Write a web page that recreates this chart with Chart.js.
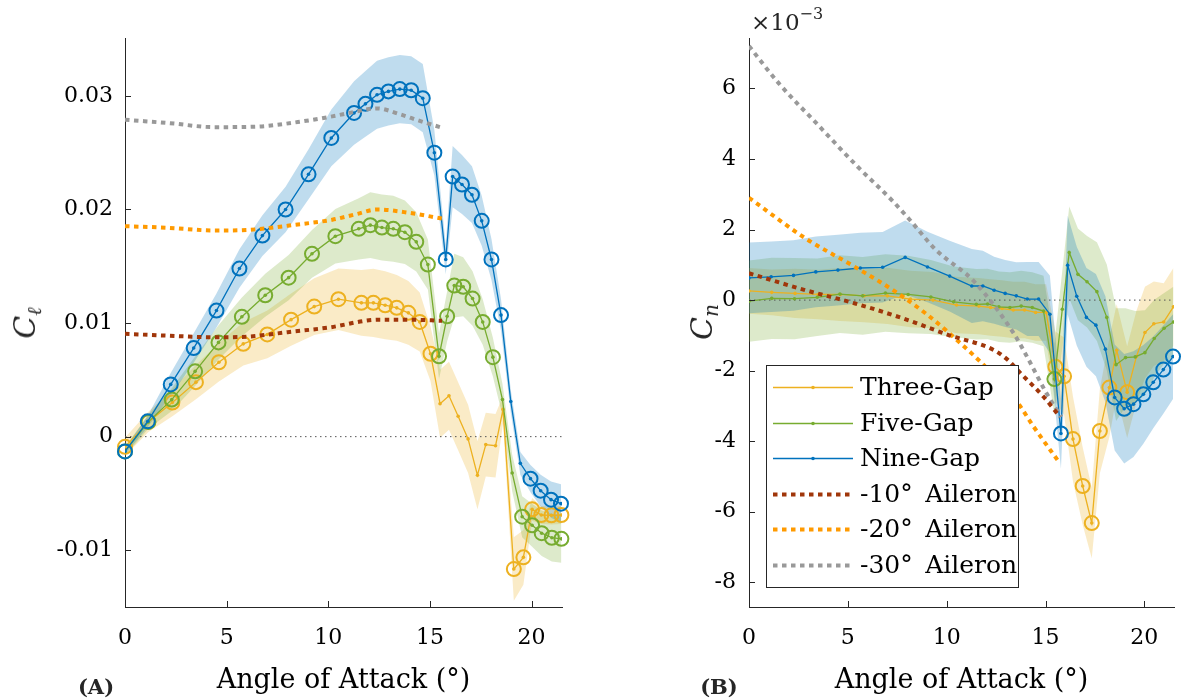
<!DOCTYPE html>
<html>
<head>
<meta charset="utf-8">
<title>Roll and yaw moment coefficients vs angle of attack</title>
<script src="https://cdn.jsdelivr.net/npm/chart.js@4.4.1/dist/chart.umd.min.js"></script>
<style>
  html, body { margin: 0; padding: 0; background: #fff; }
  body { position: relative; width: 1183px; height: 700px; overflow: hidden; font-family: 'DejaVu Serif', serif; color: #262626; }
  canvas { position: absolute; top: 0; }
  #clChart { left: 0; }
  #cnChart { left: 620px; }
  .txt { position: absolute; white-space: nowrap; line-height: 1; }
  .ylab { font-size: 30px; font-style: italic; transform: translate(-50%, -50%) rotate(-90deg); }
  .ylab sub { font-size: 20px; vertical-align: -6px; }
  .mult { font-size: 23px; }
  .mult sup { font-size: 16px; vertical-align: 11px; }
  .panel { font-size: 21px; font-weight: bold; transform: translate(-50%, -50%); }
</style>
</head>
<body>
<canvas id="clChart" width="600" height="700"></canvas>
<canvas id="cnChart" width="563" height="700"></canvas>
<div class="txt ylab" style="left:27px; top:323px;">C<sub>ℓ</sub></div>
<div class="txt ylab" style="left:704px; top:322px;">C<sub>n</sub></div>
<div class="txt mult" style="left:751px; top:6px;">×10<sup>−3</sup></div>
<div class="txt panel" style="left:96px; top:686px;">(A)</div>
<div class="txt panel" style="left:719px; top:686px;">(B)</div>
<script>
// ---- axes ----
const xTicks = [0, 5, 10, 15, 20];
const xMin = 0, xMax = 21.5;
const clTicks = [-0.01, 0, 0.01, 0.02, 0.03];
const clMin = -0.015, clMax = 0.0351;
const cnTicks = [-8, -6, -4, -2, 0, 2, 4, 6];
const cnMin = -8.7, cnMax = 7.43;

// ---- angle of attack for each wing ----
const threeX = [0, 1.15, 2.33, 3.49, 4.62, 5.82, 7.0, 8.17, 9.31, 10.5, 11.63, 12.22, 12.8, 13.37, 13.94, 14.5, 15.03, 15.5, 15.94, 16.39, 16.88, 17.34, 17.75, 18.23, 18.6, 19.13, 19.6, 20.03, 20.48, 20.98, 21.47];
const fiveX = [0, 1.15, 2.3, 3.45, 4.6, 5.75, 6.9, 8.05, 9.2, 10.35, 11.5, 12.07, 12.64, 13.2, 13.77, 14.33, 14.9, 15.45, 15.85, 16.2, 16.64, 17.1, 17.6, 18.1, 18.57, 19.05, 19.54, 20.03, 20.5, 21.0, 21.47];
const nineX = [0, 1.12, 2.25, 3.38, 4.5, 5.63, 6.76, 7.9, 9.03, 10.15, 11.27, 11.83, 12.4, 12.96, 13.52, 14.08, 14.65, 15.22, 15.78, 16.12, 16.58, 17.07, 17.55, 18.03, 18.5, 18.98, 19.45, 19.95, 20.45, 20.96, 21.45];

// ---- Cl (panel A): mean and spread ----
const threeCl = [-0.0009, 0.0013, 0.003, 0.0048, 0.00655, 0.00817, 0.009, 0.0103, 0.01145, 0.0121, 0.01178, 0.01178, 0.01157, 0.01134, 0.0109, 0.0101, 0.0073, 0.0029, 0.0036, 0.0018, -0.0002, -0.0034, -0.0007, -0.0008, 0.0024, -0.01166, -0.01063, -0.0064, -0.0069, -0.00693, -0.0069];
const threeClErr = [0.0008, 0.0009, 0.0012, 0.0015, 0.0017, 0.0019, 0.0021, 0.0023, 0.0025, 0.0027, 0.0029, 0.003, 0.003, 0.0029, 0.0028, 0.0026, 0.0024, 0.003, 0.003, 0.003, 0.003, 0.003, 0.0028, 0.0028, 0.0012, 0.0028, 0.0024, 0.001, 0.0008, 0.0008, 0.0008];
const fiveCl = [-0.0013, 0.0013, 0.00326, 0.00575, 0.0083, 0.01055, 0.01245, 0.014, 0.0161, 0.01765, 0.0183, 0.01862, 0.01841, 0.0183, 0.018, 0.01715, 0.01515, 0.00708, 0.0106, 0.0133, 0.0132, 0.01216, 0.0101, 0.007, 0.00326, -0.0032, -0.00705, -0.0078, -0.0085, -0.0089, -0.009];
const fiveClErr = [0.0004, 0.0006, 0.001, 0.0013, 0.0015, 0.0017, 0.0019, 0.002, 0.0021, 0.0024, 0.0027, 0.0029, 0.0029, 0.0029, 0.0028, 0.0026, 0.0022, 0.002, 0.0022, 0.0028, 0.0026, 0.0024, 0.002, 0.0017, 0.0014, 0.0016, 0.0018, 0.0019, 0.002, 0.0021, 0.0021];
const nineCl = [-0.0013, 0.00135, 0.0046, 0.0078, 0.0111, 0.0148, 0.0177, 0.02, 0.0231, 0.0263, 0.0285, 0.0293, 0.0301, 0.0304, 0.0306, 0.0305, 0.0298, 0.025, 0.0156, 0.0229, 0.0222, 0.0213, 0.019, 0.0156, 0.0107, 0.0031, -0.00235, -0.0037, -0.00476, -0.00555, -0.0059];
const nineClErr = [0.0003, 0.0005, 0.001, 0.0013, 0.0015, 0.0017, 0.0018, 0.002, 0.0022, 0.0025, 0.0028, 0.0029, 0.003, 0.003, 0.003, 0.003, 0.003, 0.002, 0.0013, 0.0027, 0.0026, 0.0025, 0.0022, 0.0018, 0.0014, 0.001, 0.001, 0.0012, 0.0014, 0.0016, 0.0017];
// 1 = point drawn with an open circle
const threeClMark = [1, 1, 1, 1, 1, 1, 1, 1, 1, 1, 1, 1, 1, 1, 1, 1, 1, 0, 0, 0, 0, 0, 0, 0, 0, 1, 1, 1, 1, 1, 1];
const fiveClMark = [1, 1, 1, 1, 1, 1, 1, 1, 1, 1, 1, 1, 1, 1, 1, 1, 1, 1, 1, 1, 1, 1, 1, 1, 0, 0, 1, 1, 1, 1, 1];
const nineClMark = [1, 1, 1, 1, 1, 1, 1, 1, 1, 1, 1, 1, 1, 1, 1, 1, 1, 1, 1, 1, 1, 1, 1, 1, 1, 0, 0, 1, 1, 1, 1];

// ---- Cn x 1e-3 (panel B) ----
const threeCn = [0.26, 0.22, 0.19, 0.16, 0.16, 0.12, 0.12, 0.03, 0.0, -0.14, -0.17, -0.21, -0.24, -0.28, -0.28, -0.35, -0.35, -1.89, -2.16, -3.94, -5.27, -6.32, -3.71, -2.48, -1.42, -2.61, -1.6, -0.92, -0.67, -0.62, -0.19];
const threeCnErr = [0.65, 0.65, 0.7, 0.7, 0.75, 0.75, 0.8, 0.8, 0.8, 0.8, 0.8, 0.8, 0.8, 0.8, 0.8, 0.8, 0.8, 1.0, 1.1, 1.2, 1.1, 1.0, 1.2, 1.4, 1.3, 1.3, 1.3, 1.3, 1.2, 1.1, 1.1];
const fiveCn = [-0.03, 0.05, 0.04, 0.08, 0.17, 0.12, 0.2, 0.16, 0.09, -0.05, -0.12, -0.11, -0.19, -0.21, -0.17, -0.21, -0.31, -2.24, -0.26, 1.35, 0.73, 0.52, 0.24, -0.49, -1.83, -1.63, -1.61, -1.49, -1.09, -0.8, -0.62];
const fiveCnErr = [1.15, 1.15, 1.15, 1.1, 1.1, 1.1, 1.1, 1.1, 1.05, 1.0, 1.0, 1.0, 1.0, 1.0, 1.0, 1.0, 1.0, 1.0, 1.1, 1.3, 1.3, 1.3, 1.4, 1.5, 1.6, 1.4, 1.3, 1.2, 1.1, 1.0, 1.0];
const nineCn = [0.63, 0.66, 0.7, 0.8, 0.85, 0.91, 0.93, 1.21, 0.94, 0.68, 0.4, 0.4, 0.28, 0.19, 0.12, 0.03, 0.03, -0.4, -3.78, 0.99, 0.11, -0.49, -0.71, -1.39, -2.76, -3.08, -2.95, -2.67, -2.33, -1.97, -1.6];
const nineCnErr = [1.0, 1.0, 1.0, 1.0, 1.0, 1.0, 1.0, 1.05, 1.0, 1.0, 1.05, 1.0, 0.95, 0.95, 0.95, 1.05, 1.05, 1.1, 1.0, 1.4, 1.4, 1.4, 1.45, 1.5, 1.5, 1.55, 1.5, 1.4, 1.3, 1.25, 1.2];
const threeCnMark = [0, 0, 0, 0, 0, 0, 0, 0, 0, 0, 0, 0, 0, 0, 0, 0, 0, 1, 1, 1, 1, 1, 1, 1, 0, 1, 0, 0, 0, 0, 0];
const fiveCnMark = [0, 0, 0, 0, 0, 0, 0, 0, 0, 0, 0, 0, 0, 0, 0, 0, 0, 1, 0, 0, 0, 0, 0, 0, 0, 0, 0, 0, 0, 0, 0];
const nineCnMark = [0, 0, 0, 0, 0, 0, 0, 0, 0, 0, 0, 0, 0, 0, 0, 0, 0, 0, 1, 0, 0, 0, 0, 0, 1, 1, 1, 1, 1, 1, 1];

// ---- aileron reference curves ----
const ail10ClX = [0, 2, 4.4, 6, 8, 10, 12.5, 14, 15.6];
const ail10Cl = [0.00905, 0.0089, 0.00875, 0.0088, 0.0092, 0.0096, 0.0103, 0.0103, 0.0102];
const ail20ClX = [0, 2, 4.4, 6, 8.5, 10.2, 11.4, 12.4, 14, 15.6];
const ail20Cl = [0.01853, 0.0184, 0.01815, 0.0182, 0.01868, 0.0191, 0.0196, 0.02, 0.0197, 0.0192];
const ail30ClX = [0, 2.2, 4.4, 6.5, 8.5, 10.2, 11.3, 12.4, 13.5, 14.5, 15.6];
const ail30Cl = [0.0279, 0.0276, 0.02725, 0.0273, 0.0277, 0.0282, 0.0286, 0.0289, 0.0284, 0.0278, 0.0272];
const ail10CnX = [0, 2.86, 5.33, 7.8, 10.1, 12.4, 13.1, 13.75, 14.9, 15.73];
const ail10Cn = [0.76, 0.28, -0.09, -0.52, -0.99, -1.42, -1.7, -2.08, -2.74, -3.31];
const ail20CnX = [0, 2.86, 5.33, 7.8, 9.95, 13.5, 14.4, 15.73];
const ail20Cn = [2.9, 1.75, 0.95, 0.09, -0.85, -2.84, -3.59, -4.63];
const ail30CnX = [0, 1.5, 3.5, 5.5, 7.3, 8.14, 9.46, 11.4, 13.4, 14.07, 15.06, 15.8];
const ail30Cn = [7.2, 6.15, 4.96, 3.78, 2.79, 2.27, 1.42, 0.52, -0.95, -1.61, -2.65, -3.31];

const legendLabels = ['Three-Gap', 'Five-Gap', 'Nine-Gap', '-10°\u2002Aileron', '-20°\u2002Aileron', '-30°\u2002Aileron'];

// colours
const threeColor = '#EDB120', fiveColor = '#77AC30', nineColor = '#0072BD';
const threeFill = 'rgba(237,177,32,0.25)', fiveFill = 'rgba(119,172,48,0.25)', nineFill = 'rgba(0,114,189,0.25)';
const ail10Color = '#A0360A', ail20Color = '#FF9A00', ail30Color = '#999999';
const axisColor = '#262626';
const serif = "'DejaVu Serif', serif";

const toPts = (xs, ys) => xs.map((x, i) => ({ x, y: ys[i] }));

function seriesSets(xs, ys, errs, marks, color, fill, label, order) {
    return [
        { label: label + ' upper', data: xs.map((x, i) => ({ x, y: ys[i] + errs[i] })), fill: '+1', backgroundColor: fill, borderColor: 'transparent', borderWidth: 0, pointRadius: 0, order: 20 },
        { label: label + ' lower', data: xs.map((x, i) => ({ x, y: ys[i] - errs[i] })), fill: false, borderColor: 'transparent', borderWidth: 0, pointRadius: 0, order: 20 },
        { label, data: toPts(xs, ys), borderColor: color, backgroundColor: color, borderWidth: 1.3, pointRadius: 1.8, pointBorderWidth: 0, pointBackgroundColor: color, order },
        { label: label + ' circles', data: toPts(xs, ys).filter((p, i) => marks[i]), showLine: false, pointRadius: 7, pointBorderWidth: 2, pointBorderColor: color, pointBackgroundColor: 'rgba(0,0,0,0)', order: order - 0.5, clip: false }
    ];
}

function aileronSet(xs, ys, color, label) {
    return { label, data: toPts(xs, ys), borderColor: color, borderWidth: 4, borderDash: [4.5, 4.5], borderCapStyle: 'butt', pointRadius: 0, cubicInterpolationMode: 'monotone', fill: false, order: 2 };
}

function zeroSet() {
    return { label: 'zero', data: [{ x: xMin, y: 0 }, { x: xMax, y: 0 }], borderColor: '#555', borderWidth: 1, borderDash: [1.5, 3.5], pointRadius: 0, fill: false, order: 15 };
}

// tick marks pointing into the plot, as in the original figure
const inwardTicks = {
    id: 'inwardTicks',
    afterDatasetsDraw(chart) {
        const { ctx, chartArea: a, scales: { x, y } } = chart;
        ctx.save();
        ctx.strokeStyle = axisColor;
        ctx.lineWidth = 1;
        x.ticks.forEach(t => {
            const px = Math.round(x.getPixelForValue(t.value)) + 0.5;
            ctx.beginPath(); ctx.moveTo(px, a.bottom); ctx.lineTo(px, a.bottom - 6); ctx.stroke();
        });
        y.ticks.forEach(t => {
            const py = Math.round(y.getPixelForValue(t.value)) + 0.5;
            ctx.beginPath(); ctx.moveTo(a.left, py); ctx.lineTo(a.left + 6, py); ctx.stroke();
        });
        ctx.restore();
    }
};

// boxed legend inside panel B
const boxLegend = {
    id: 'boxLegend',
    afterDraw(chart, args, opts) {
        if (!opts.items) return;
        const ctx = chart.ctx;
        const b = opts.box;
        ctx.save();
        ctx.fillStyle = '#fff';
        ctx.fillRect(b.x, b.y, b.w, b.h);
        ctx.strokeStyle = axisColor;
        ctx.lineWidth = 1;
        ctx.strokeRect(b.x + 0.5, b.y + 0.5, b.w, b.h);
        ctx.font = '25px ' + serif;
        ctx.textBaseline = 'middle';
        opts.items.forEach((it, i) => {
            const y = Math.round(b.y + opts.firstRow + i * opts.rowGap) + 0.5;
            ctx.beginPath();
            ctx.strokeStyle = it.color;
            if (it.dotted) {
                ctx.lineWidth = 4;
                ctx.setLineDash([4.5, 4.5]);
            } else {
                ctx.lineWidth = 1.3;
                ctx.setLineDash([]);
            }
            ctx.moveTo(opts.lineX0, y); ctx.lineTo(opts.lineX1, y); ctx.stroke();
            ctx.setLineDash([]);
            if (!it.dotted) {
                ctx.fillStyle = it.color;
                ctx.beginPath(); ctx.arc((opts.lineX0 + opts.lineX1) / 2, y, 1.8, 0, Math.PI * 2); ctx.fill();
            }
            ctx.fillStyle = '#000';
            ctx.fillText(it.text, opts.textX, y + 1);
        });
        ctx.restore();
    }
};

function makeOptions(cfg) {
    return {
        responsive: false,
        animation: false,
        events: [],
        layout: { padding: cfg.padding },
        plugins: {
            legend: { display: false },
            tooltip: { enabled: false },
            filler: { propagate: false },
            boxLegend: cfg.legend || {}
        },
        scales: {
            x: {
                type: 'linear', min: xMin, max: xMax,
                afterBuildTicks: s => { s.ticks = xTicks.map(v => ({ value: v })); },
                afterFit: s => { s.height = 93; },
                grid: { display: false, drawTicks: false },
                border: { display: true, color: axisColor, width: 1 },
                ticks: { padding: 18, color: '#000', font: { family: serif, size: 22 }, callback: v => String(v) },
                title: { display: true, text: 'Angle of Attack (°)', color: '#000', font: { family: serif, size: 27 }, padding: { top: 0, bottom: 3 } }
            },
            y: {
                type: 'linear', min: cfg.yMin, max: cfg.yMax,
                afterBuildTicks: s => { s.ticks = cfg.yTicks.map(v => ({ value: v })); },
                afterFit: s => { s.width = cfg.yWidth; },
                grid: { display: false, drawTicks: false },
                border: { display: true, color: axisColor, width: 1 },
                ticks: { padding: cfg.yPad, color: '#000', font: { family: serif, size: 22 }, callback: cfg.yFormat }
            }
        }
    };
}

// ---- panel A: Cl ----
new Chart(document.getElementById('clChart'), {
    type: 'line',
    data: {
        datasets: [
            ...seriesSets(nineX, nineCl, nineClErr, nineClMark, nineColor, nineFill, 'Nine-Gap', 4),
            ...seriesSets(fiveX, fiveCl, fiveClErr, fiveClMark, fiveColor, fiveFill, 'Five-Gap', 5),
            ...seriesSets(threeX, threeCl, threeClErr, threeClMark, threeColor, threeFill, 'Three-Gap', 6),
            aileronSet(ail10ClX, ail10Cl, ail10Color, '-10° Aileron'),
            aileronSet(ail20ClX, ail20Cl, ail20Color, '-20° Aileron'),
            aileronSet(ail30ClX, ail30Cl, ail30Color, '-30° Aileron'),
            zeroSet()
        ]
    },
    options: makeOptions({
        padding: { left: 0, top: 38, right: 38, bottom: 0 },
        yMin: clMin, yMax: clMax, yTicks: clTicks, yWidth: 125, yPad: 12,
        yFormat: v => (v === 0 ? '0' : v.toFixed(2))
    }),
    plugins: [inwardTicks]
});

// ---- panel B: Cn ----
new Chart(document.getElementById('cnChart'), {
    type: 'line',
    data: {
        datasets: [
            ...seriesSets(nineX, nineCn, nineCnErr, nineCnMark, nineColor, nineFill, 'Nine-Gap', 4),
            ...seriesSets(fiveX, fiveCn, fiveCnErr, fiveCnMark, fiveColor, fiveFill, 'Five-Gap', 5),
            ...seriesSets(threeX, threeCn, threeCnErr, threeCnMark, threeColor, threeFill, 'Three-Gap', 6),
            aileronSet(ail10CnX, ail10Cn, ail10Color, '-10° Aileron'),
            aileronSet(ail20CnX, ail20Cn, ail20Color, '-20° Aileron'),
            aileronSet(ail30CnX, ail30Cn, ail30Color, '-30° Aileron'),
            zeroSet()
        ]
    },
    options: makeOptions({
        padding: { left: 0, top: 38, right: 0, bottom: 0 },
        yMin: cnMin, yMax: cnMax, yTicks: cnTicks, yWidth: 129, yPad: 13,
        yFormat: v => String(v),
        legend: {
            box: { x: 146, y: 365, w: 252, h: 222 },
            firstRow: 22, rowGap: 35.6, lineX0: 153, lineX1: 233, textX: 240,
            items: [
                { text: legendLabels[0], color: threeColor, dotted: false },
                { text: legendLabels[1], color: fiveColor, dotted: false },
                { text: legendLabels[2], color: nineColor, dotted: false },
                { text: legendLabels[3], color: ail10Color, dotted: true },
                { text: legendLabels[4], color: ail20Color, dotted: true },
                { text: legendLabels[5], color: ail30Color, dotted: true }
            ]
        }
    }),
    plugins: [inwardTicks, boxLegend]
});
</script>
</body>
</html>
